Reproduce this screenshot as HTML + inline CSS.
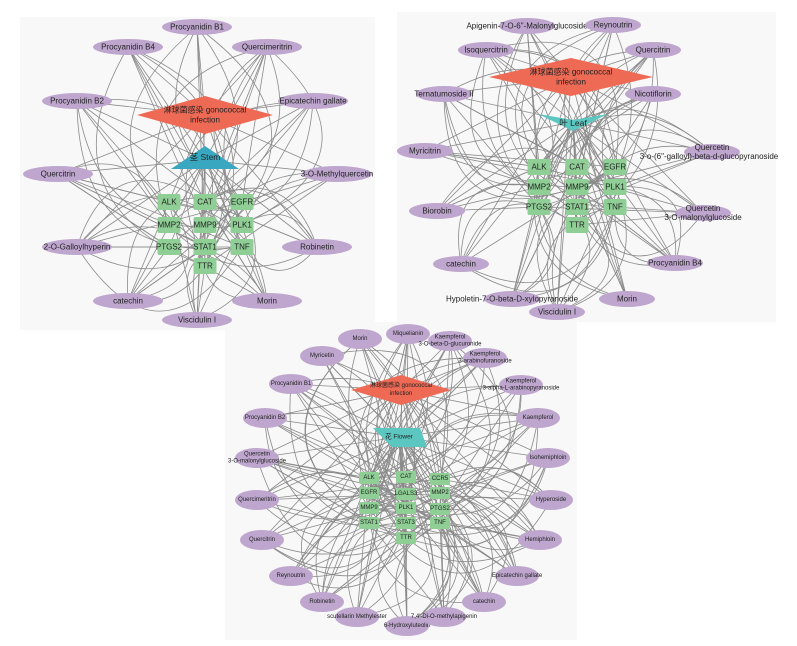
<!DOCTYPE html>
<html><head><meta charset="utf-8"><style>
html,body{margin:0;padding:0;background:#fff;}
svg{display:block;font-family:"Liberation Sans","Noto Sans CJK SC",sans-serif;}
</style></head><body>
<svg id="s" width="797" height="646" viewBox="0 0 797 646" xmlns="http://www.w3.org/2000/svg">
<rect x="20" y="17" width="355" height="313" fill="#f8f8f8"/>
<rect x="397" y="12" width="379" height="310" fill="#f8f8f8"/>
<rect x="225" y="322" width="352" height="318" fill="#f8f8f8"/>
<g id="edges" stroke="#8a8a8a" stroke-width="0.8" fill="none"></g>
<g id="nodes"></g>
</svg>
<script>
var NS="http://www.w3.org/2000/svg";
var E=document.getElementById('edges'),N=document.getElementById('nodes');
var seed=7;function rnd(){seed=(seed*16807)%2147483647;return seed/2147483647;}
function el(t,a,p){var e=document.createElementNS(NS,t);for(var k in a)e.setAttribute(k,a[k]);(p||N).appendChild(e);return e;}
function txt(x,y,s,fs,p){var t=el('text',{x:x,y:y,'font-size':fs,'text-anchor':'middle','dominant-baseline':'central',fill:'#222'},p);t.textContent=s;return t;}
function panel(cfg){
 var genes=cfg.genes,comps=cfg.comps;
 comps.forEach(function(c){
  el('line',{x1:c[0],y1:c[1],x2:cfg.hub[0],y2:cfg.hub[1]},E);
  el('line',{x1:c[0],y1:c[1],x2:cfg.dis[0],y2:cfg.dis[1]},E);
  var n=5+Math.floor(rnd()*4);
  for(var i=0;i<n;i++){var g=genes[Math.floor(rnd()*genes.length)];
   if(rnd()<0.5){el('line',{x1:c[0],y1:c[1],x2:g[0],y2:g[1]},E);}
   else{var dx=g[0]-c[0],dy=g[1]-c[1],s=(rnd()<0.5?-1:1)*(0.3+rnd()*0.5);
    var mx=(c[0]+g[0])/2-dy*s,my=(c[1]+g[1])/2+dx*s;
    el('path',{d:'M'+c[0]+' '+c[1]+' Q'+mx+' '+my+' '+g[0]+' '+g[1]},E);}
  }
 });
 genes.forEach(function(g){el('line',{x1:g[0],y1:g[1],x2:cfg.hub[0],y2:cfg.hub[1]},E);});
 var d=cfg.dis;
 el('polygon',{points:(d[0]-d[2])+','+d[1]+' '+d[0]+','+(d[1]-d[3])+' '+(d[0]+d[2])+','+d[1]+' '+d[0]+','+(d[1]+d[3]),fill:'#ee6a55'});
 txt(d[0],d[1]-d[4],'淋球菌感染 gonococcal',cfg.dfs);txt(d[0],d[1]+d[4],'infection',cfg.dfs);
 el('polygon',{points:cfg.hubPts,fill:cfg.hubCol});
 txt(cfg.hub[0],cfg.hubLy,cfg.hubLabel,cfg.dfs+0.5);
 genes.forEach(function(g){el('rect',{x:g[0]-cfg.gw/2,y:g[1]-cfg.gh/2,width:cfg.gw,height:cfg.gh,rx:2,fill:'#8fcf96'});txt(g[0],g[1],g[2],cfg.gfs);});
 comps.forEach(function(c){
  el('ellipse',{cx:c[0],cy:c[1],rx:cfg.rx,ry:cfg.ry,fill:'#bfa6cf'});
  var lines=c[2].split('|');
  if(lines.length==1)txt(c[0],c[1],lines[0],cfg.cfs);
  else{txt(c[0],c[1]-cfg.cfs*0.55,lines[0],cfg.cfs);txt(c[0]+(c[4]||0),c[1]+cfg.cfs*0.55,lines[1],cfg.cfs);}
 });
}
panel({
 dis:[205,115,68,19,5],dfs:8,hub:[205,160],hubLy:157,hubLabel:'茎 Stem',hubCol:'#3aa7c0',
 hubPts:'205,146 239,169 171,169',gw:23,gh:16,gfs:8,cfs:8,rx:35,ry:8,
 genes:[[169,202,'ALK'],[205,202,'CAT'],[242,202,'EGFR'],[169,225,'MMP2'],[205,225,'MMP9'],[242,225,'PLK1'],[169,247,'PTGS2'],[205,247,'STAT1'],[242,247,'TNF'],[205,266,'TTR']],
 comps:[[197,27,'Procyanidin B1'],[128,47,'Procyanidin B4'],[267,47,'Quercimeritrin'],[77,101,'Procyanidin B2'],[313,101,'Epicatechin gallate'],[58,174,'Quercitrin'],[337,174,'3-O-Methylquercetin'],[77,247,'2-O-Galloylhyperin'],[317,247,'Robinetin'],[128,301,'catechin'],[267,301,'Morin'],[197,320,'Viscidulin I']]
});
panel({
 dis:[571,77,82,19,5],dfs:8,hub:[573,122],hubLy:123,hubLabel:'叶 Leaf',hubCol:'#5cc6c0',
 hubPts:'538,114 573,120 608,114 573,131',gw:23,gh:16,gfs:8,cfs:8,rx:28,ry:8,
 genes:[[539,167,'ALK'],[577,167,'CAT'],[615,167,'EGFR'],[539,187,'MMP2'],[577,187,'MMP9'],[615,187,'PLK1'],[539,207,'PTGS2'],[577,207,'STAT1'],[615,207,'TNF'],[577,225,'TTR']],
 comps:[[527,26,'Apigenin-7-O-6"-Malonylglucoside'],[613,25,'Reynoutrin'],[486,50,'Isoquercitrin'],[653,50,'Quercitrin'],[444,94,'Ternatumoside II'],[653,94,'Nicotiflorin'],[425,151,'Myricitrin'],[712,152,'Quercetin|3-o-(6"-galloyl)-beta-d-glucopyranoside',1,-3],[437,211,'Biorobin'],[703,213,'Quercetin|3-O-malonylglucoside',1,0],[461,264,'catechin'],[675,263,'Procyanidin B4'],[512,299,'Hypoletin-7-O-beta-D-xylopyranoside'],[627,299,'Morin'],[557,312,'Viscidulin I']]
});
panel({
 dis:[401,390,50,15,4],dfs:6,hub:[399,437],hubLy:437,hubLabel:'花 Flower',hubCol:'#5cc6c0',
 hubPts:'373,428 420,428 427,447 392,447',gw:20,gh:12,gfs:6,cfs:6,rx:22,ry:10,
 genes:[[369,478,'ALK'],[406,477,'CAT'],[440,479,'CCR5'],[369,493,'EGFR'],[406,494,'LGALS3'],[440,493,'MMP2'],[369,508,'MMP9'],[406,508,'PLK1'],[440,509,'PTGS2'],[369,523,'STAT1'],[406,523,'STAT3'],[440,523,'TNF'],[406,538,'TTR']],
 comps:[[360,339,'Morin'],[408,334,'Miquelianin'],[450,341,'Kaempferol|3-O-beta-D-glucuronide',1],[485,358,'Kaempferol|3-arabinofuranoside',1],[521,385,'Kaempferol|3-alpha-L-arabinopyranoside',1],[322,356,'Myricetin'],[291,384,'Procyanidin B1'],[265,418,'Procyanidin B2'],[538,418,'Kaempferol'],[257,458,'Quercetin|3-O-malonylglucoside',1],[548,458,'Isohemiphloin'],[257,500,'Quercimeritrin'],[551,500,'Hyperoside'],[262,540,'Quercitrin'],[540,540,'Hemiphloin'],[291,576,'Reynoutrin'],[517,576,'Epicatechin gallate'],[322,602,'Robinetin'],[484,602,'catechin'],[357,617,'scutellarin Methylester'],[407,626,'6-Hydroxyluteolin'],[444,617,"7,4'-Di-O-methylapigenin"]]
});
</script>
</body></html>
